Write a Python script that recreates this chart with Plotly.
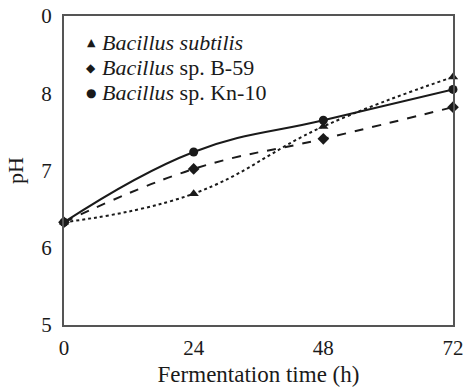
import plotly.graph_objects as go

time_h = [0, 24, 48, 72]
subtilis = [6.33, 6.70, 7.57, 8.21]
b59 = [6.33, 7.02, 7.41, 7.82]
kn10 = [6.33, 7.24, 7.65, 8.05]
y_ticks = [5, 6, 7, 8, 9]
y_ticktext = ["5", "6", "7", "8", "0"]
x_ticks = [0, 24, 48, 72]
legend_names = ["<i>Bacillus subtilis</i>", "<i>Bacillus</i> sp. B-59", "<i>Bacillus</i> sp. Kn-10"]
legend_glyphs = ["\u25B2", "\u25C6", "\u25CF"]

SERIF = "Liberation Serif"
INK = "#1a1a1a"

series = [
    (subtilis, "triangle-up", "dot"),
    (b59, "diamond", "dash"),
    (kn10, "circle", "solid"),
]

fig = go.Figure()
for vals, sym, dash in series:
    fig.add_trace(go.Scatter(
        x=time_h, y=vals, mode="lines+markers", showlegend=False,
        line=dict(color=INK, width=2, dash=dash, shape="spline", smoothing=1.2),
        marker=dict(symbol=sym, size=9, color=INK),
        cliponaxis=False,
    ))

# legend built from annotations (compact rows like the reference)
row_y = [0.913, 0.832, 0.751]
glyph_sizes = [11, 12, 12]
for name, glyph, gs, yy in zip(legend_names, legend_glyphs, glyph_sizes, row_y):
    fig.add_annotation(xref="paper", yref="paper", x=0.070, y=yy, text=glyph,
                       showarrow=False, xanchor="center", yanchor="middle",
                       font=dict(family="DejaVu Sans", size=gs, color=INK))
    fig.add_annotation(xref="paper", yref="paper", x=0.092, y=yy, text=name,
                       showarrow=False, xanchor="left", yanchor="middle",
                       font=dict(family=SERIF, size=22, color=INK))

fig.update_layout(
    width=465, height=387,
    margin=dict(l=64, r=12, t=16, b=62),
    paper_bgcolor="white", plot_bgcolor="white",
    font=dict(family=SERIF, size=20, color=INK),
    showlegend=False,
    xaxis=dict(range=[0, 72], tickvals=x_ticks, showgrid=False, zeroline=False,
               showline=True, mirror=True, linecolor="#555", linewidth=2,
               ticks="", ticklen=0, tickfont=dict(size=21), ticklabelstandoff=3,
               automargin=False,
               title=dict(text="Fermentation time (h)", font=dict(size=23), standoff=9)),
    yaxis=dict(range=[5, 9], tickvals=y_ticks, ticktext=y_ticktext, showgrid=False,
               zeroline=False, showline=True, mirror=True, linecolor="#555", linewidth=2,
               ticks="", ticklen=0, tickfont=dict(size=21), ticklabelstandoff=6,
               automargin=False,
               title=dict(text="pH", font=dict(size=22), standoff=12)),
)

fig.write_html("out.html")
